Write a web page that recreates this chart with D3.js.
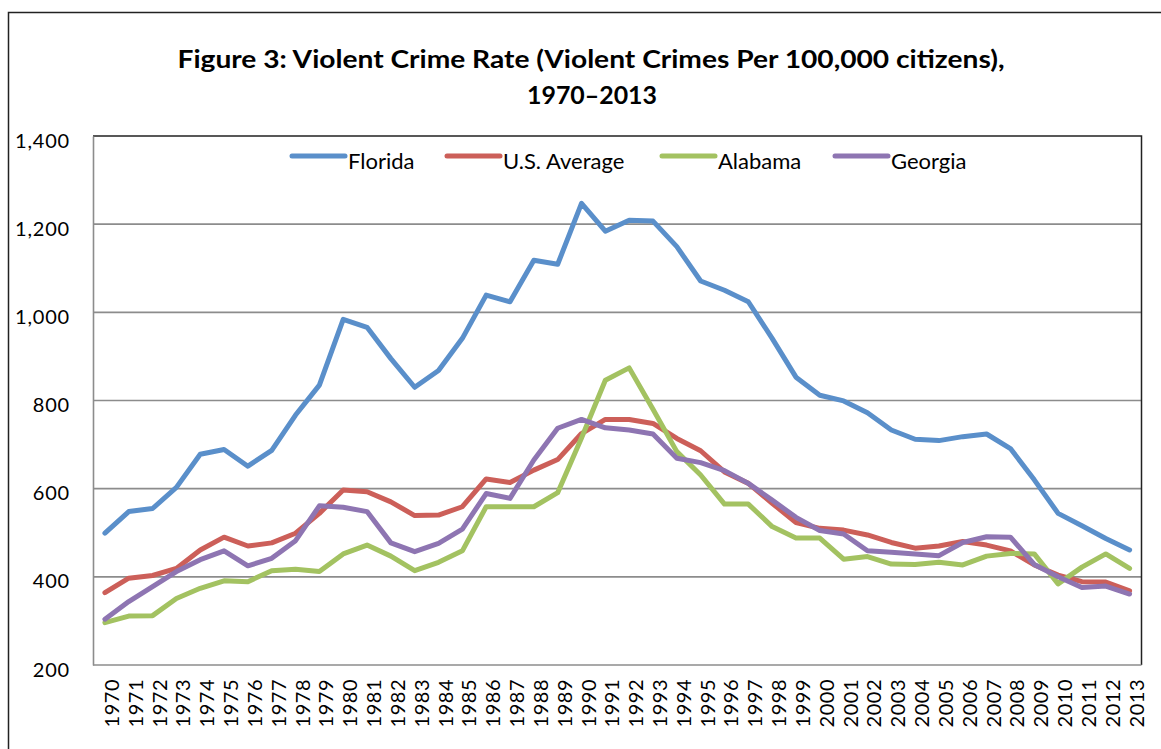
<!DOCTYPE html>
<html><head><meta charset="utf-8">
<script src="https://cdn.jsdelivr.net/npm/d3@7"></script>
<style>
html,body{margin:0;padding:0;background:#fff;}
svg{display:block;}
text{font-family:Lato,"Open Sans",sans-serif;fill:#000;}
</style></head>
<body>
<svg id="chart" width="1161" height="749"></svg>
<script>
const years = d3.range(1970, 2014).map(String);
const yTicks = [200, 400, 600, 800, 1000, 1200, 1400];
const seriesNames = ["Florida", "U.S. Average", "Alabama", "Georgia"];
const seriesColors = ["#5a8fca", "#cc5f59", "#a3c261", "#8e75b2"];
const florida = [499,548,555,603,678,689,651,687,767,835,984,966,895,830,868,941,1039,1024,1118,1109,1247,1184,1209,1207,1149,1071,1050,1024,941,853,812,799,772,733,712,709,718,724,691,620,544,516,487,461];
const usAverage = [364,397,403,419,461,490,470,477,499,544,597,593,570,539,540,559,622,614,642,666,725,757,757,748,714,686,638,612,567,523,510,506,495,478,465,470,480,472,459,427,404,389,388,368];
const alabama = [296,311,312,351,374,391,389,414,417,412,452,472,447,414,433,459,559,559,559,591,715,846,874,780,684,631,565,565,514,488,488,440,446,429,428,433,427,447,453,452,384,422,452,419];
const georgia = [304,344,378,412,439,459,425,442,482,561,558,548,477,457,476,508,589,578,665,737,757,738,733,724,669,659,641,612,574,535,505,497,459,456,452,448,478,491,490,428,400,376,379,361];
const titleLines = ["Figure 3: Violent Crime Rate (Violent Crimes Per 100,000 citizens),", "1970\u20132013"];

const seriesData = [florida, usAverage, alabama, georgia];
const svg = d3.select("#chart");

// outer frame
svg.append("rect").attr("x", 8.5).attr("y", 12.5).attr("width", 1170).attr("height", 760)
  .attr("fill", "none").attr("stroke", "#222").attr("stroke-width", 1.5);

const L = 93, R = 1141.5, T = 136, B = 665;
const x = d3.scaleBand().domain(years).range([L, R]);
const y = d3.scaleLinear().domain([200, 1400]).range([B, T]);

// title
const title = svg.append("g").attr("font-weight", "bold");
title.append("text").attr("x", 591).attr("y", 68).attr("text-anchor", "middle")
  .attr("font-size", 25).attr("textLength", 827).attr("lengthAdjust", "spacingAndGlyphs")
  .text(titleLines[0]);
title.append("text").attr("x", 592).attr("y", 104).attr("text-anchor", "middle")
  .attr("font-size", 25).attr("textLength", 130).attr("lengthAdjust", "spacingAndGlyphs")
  .text(titleLines[1]);

// gridlines
svg.append("g").selectAll("line").data(yTicks.filter(d => d > 200 && d < 1400)).join("line")
  .attr("x1", L).attr("x2", R).attr("y1", d => y(d)).attr("y2", d => y(d))
  .attr("stroke", "#8c8c8c").attr("stroke-width", 1.6);

// plot border top/right
svg.append("path").attr("d", `M${L},${T}H${R}V${B}`).attr("fill", "none")
  .attr("stroke", "#222").attr("stroke-width", 1.5);

// y axis
const yAxis = svg.append("g").attr("transform", `translate(${L},0)`)
  .call(d3.axisLeft(y).tickValues(yTicks).tickFormat(d3.format(",")).tickSize(0).tickPadding(23));
yAxis.select(".domain").attr("stroke", "#8c8c8c").attr("stroke-width", 1.6);
yAxis.selectAll("text").attr("font-size", 20).attr("font-family", "Lato, sans-serif")
  .attr("dy", "0.55em").attr("letter-spacing", 0.8);

// x axis
const xAxis = svg.append("g").attr("transform", `translate(0,${B})`)
  .call(d3.axisBottom(x).tickSize(0).tickPadding(0));
xAxis.select(".domain").attr("stroke", "#8c8c8c").attr("stroke-width", 1.6).attr("d", `M${L},0H${R}`);
xAxis.selectAll("text").attr("font-size", 20).attr("font-family", "Lato, sans-serif")
  .attr("transform", "rotate(-90)").attr("text-anchor", "end")
  .attr("x", -14).attr("y", 7).attr("dy", "0.35em").attr("letter-spacing", 0.5);

// lines
const line = d3.line().x((d, i) => x(years[i]) + x.bandwidth() / 2).y(d => y(d));
svg.append("g").selectAll("path").data(seriesData).join("path")
  .attr("d", line).attr("fill", "none")
  .attr("stroke", (d, i) => seriesColors[i]).attr("stroke-width", 5)
  .attr("stroke-linejoin", "round").attr("stroke-linecap", "round");

// legend
const legendX = [292, 447, 662, 835];
const lg = svg.append("g");
seriesNames.forEach((n, i) => {
  lg.append("line").attr("x1", legendX[i]).attr("x2", legendX[i] + 53).attr("y1", 156).attr("y2", 156)
    .attr("stroke", seriesColors[i]).attr("stroke-width", 5).attr("stroke-linecap", "round");
  lg.append("text").attr("x", legendX[i] + 56).attr("y", 169).attr("font-size", 22).text(n);
});
</script>
</body></html>
